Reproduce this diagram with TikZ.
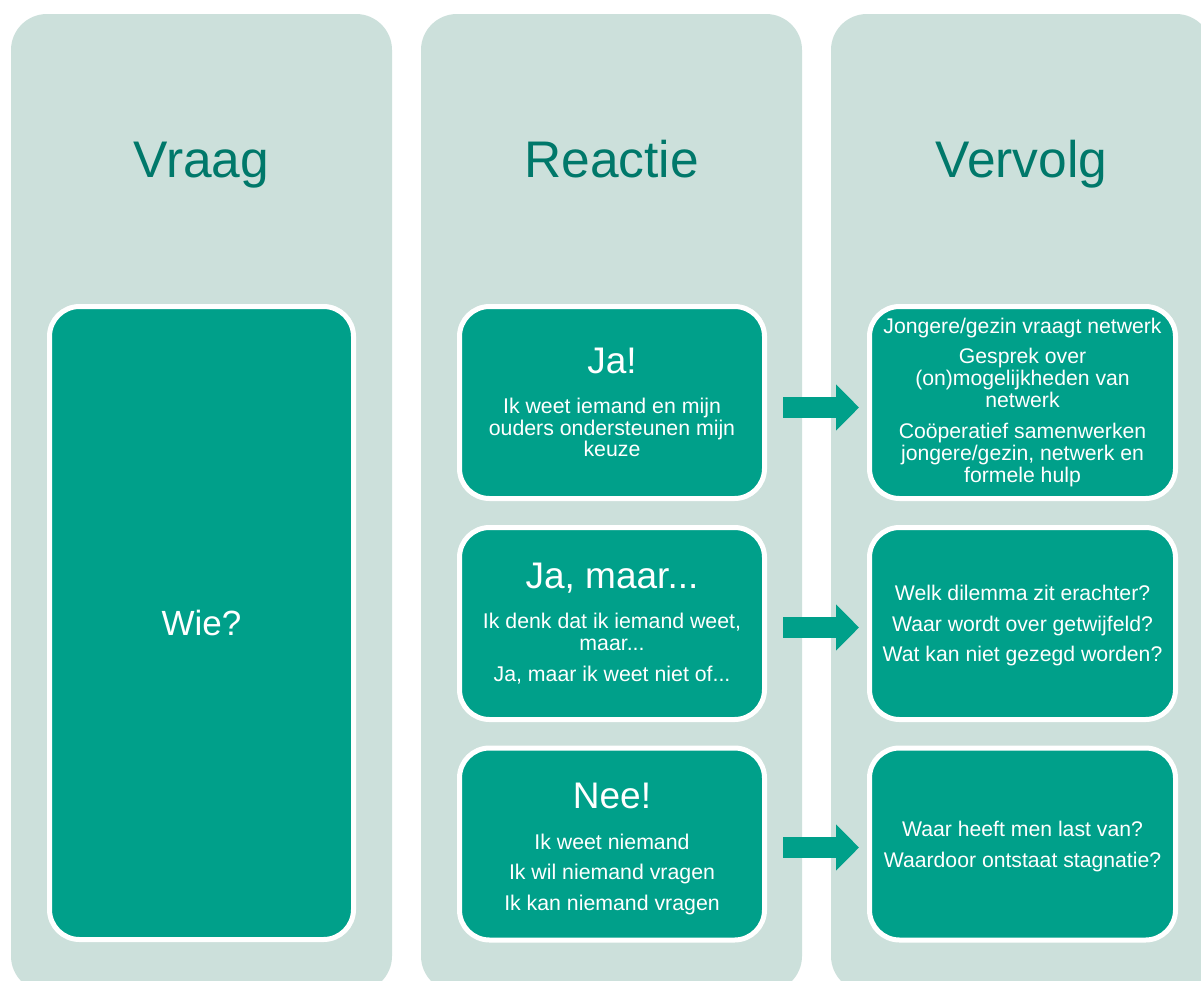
\documentclass[tikz,border=0pt]{standalone}
\usepackage{fontspec}
\setmainfont{Liberation Sans}
\usetikzlibrary{arrows.meta}
\definecolor{colbg}{HTML}{CCE0DB}
\definecolor{boxteal}{HTML}{00A08A}
\definecolor{headtxt}{HTML}{00786A}
\newcommand{\cardtitle}{\fontsize{37}{40}\selectfont}
\begin{document}
\begin{tikzpicture}[x=1pt,y=-1pt,
  column/.style={fill=colbg, draw=none, rounded corners=36pt, minimum width=381pt, minimum height=978pt, inner sep=0pt, outer sep=0pt},
  header/.style={anchor=base, text=headtxt, font=\fontsize{51.5}{55}\selectfont, inner sep=0pt},
  card/.style={fill=boxteal, draw=white, line width=5pt, rounded corners=30pt, minimum width=305pt, minimum height=192pt, inner sep=0pt, text=white, align=center, font=\fontsize{21.3}{21.5}\selectfont},
  vcard/.style={card, font=\fontsize{21.2}{22}\selectfont},
  flow/.style={draw=boxteal, line width=21pt, line cap=butt, -{Triangle[length=23pt,width=45pt]}}
]
\useasboundingbox (0,0) rectangle (1201,980);
\clip (0,0) rectangle (1201,980);
\fill[white] (0,0) rectangle (1201,980);

% columns
\node[column] (col1) at (201.5,503) {};
\node[column] (col2) at (611.5,503) {};
\node[column] (col3) at (1021.5,503) {};

% headers
\node[header] (h1) at (201.5,177) {Vraag};
\node[header] (h2) at (611.5,177) {Reactie};
\node[header] (h3) at (1021.5,177) {Vervolg};

% question box
\node[card, minimum width=304pt, minimum height=633pt, font=\fontsize{35}{38}\selectfont] (wie) at (201.5,623) {Wie?};

% reaction boxes
\node[card] (r1) at (612,402.5) {{\cardtitle Ja!}\\[19pt] Ik weet iemand en mijn\\ ouders ondersteunen mijn\\ keuze};
\node[card] (r2) at (612,623.5) {{\cardtitle Ja, maar...}\\[19pt] Ik denk dat ik iemand weet,\\ maar...\\[9.5pt] Ja, maar ik weet niet of...};
\node[card] (r3) at (612,844) {\rule{0pt}{35pt}{\cardtitle Nee!}\\[19.5pt] Ik weet niemand\\[9pt] Ik wil niemand vragen\\[9pt] Ik kan niemand vragen};

% follow-up boxes
\node[vcard, minimum width=306pt] (v1) at (1022.5,402.5) {Jongere/gezin vraagt netwerk\\[8pt] Gesprek over\\ (on)mogelijkheden van\\ netwerk\\[8.5pt] Coöperatief samenwerken\\ jongere/gezin, netwerk en\\ formele hulp};
\node[vcard, minimum width=306pt] (v2) at (1022.5,623.5) {\rule{0pt}{19.5pt}Welk dilemma zit erachter?\\[8.5pt] Waar wordt over getwijfeld?\\[8.5pt] Wat kan niet gezegd worden?};
\node[vcard, minimum width=306pt] (v3) at (1022.5,844) {\rule{0pt}{20.5pt}Waar heeft men last van?\\[8.5pt] Waardoor ontstaat stagnatie?};

% arrows
\draw[flow] ([xshift=16pt,yshift=-5pt]r1.east) -- ([xshift=-8pt,yshift=-5pt]v1.west);
\draw[flow] ([xshift=16pt,yshift=-4pt]r2.east) -- ([xshift=-8pt,yshift=-4pt]v2.west);
\draw[flow] ([xshift=16pt,yshift=-3.5pt]r3.east) -- ([xshift=-8pt,yshift=-3.5pt]v3.west);
\end{tikzpicture}
\end{document}
